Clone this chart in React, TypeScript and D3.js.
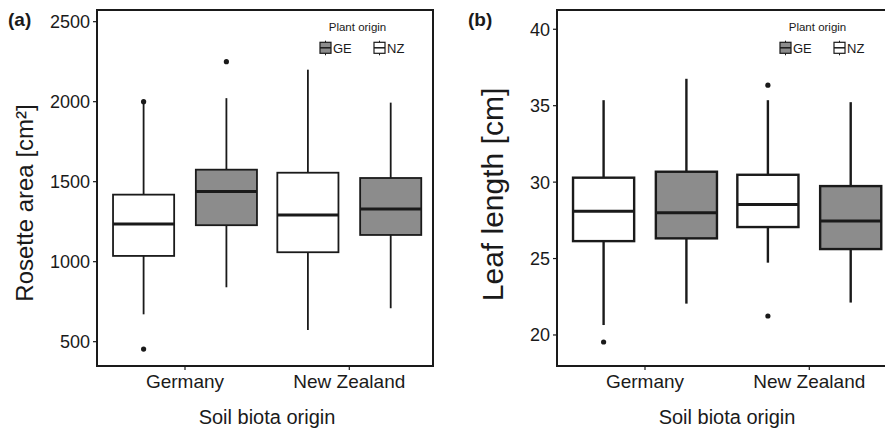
import React from "react";
import * as d3 from "d3";

// ---------- data ----------
const soilOrigins = ["Germany", "New Zealand"];
const plantOrder = ["NZ", "GE"]; // left-to-right within each soil group
const legendOrder = ["GE", "NZ"];

// five-number summaries: [lower whisker, Q1, median, Q3, upper whisker]
const rosetteGermanyNZ = [671, 1036, 1236, 1419, 1992];
const rosetteGermanyGE = [840, 1228, 1438, 1575, 2022];
const rosetteNewZealandNZ = [573, 1059, 1292, 1556, 2200];
const rosetteNewZealandGE = [709, 1167, 1329, 1523, 1994];
const rosetteOutliersGermanyNZ = [454, 2000];
const rosetteOutliersGermanyGE = [2250];
const rosetteOutliersNewZealandNZ: number[] = [];
const rosetteOutliersNewZealandGE: number[] = [];
const rosetteTicks = [500, 1000, 1500, 2000, 2500];

const leafGermanyNZ = [20.65, 26.14, 28.1, 30.29, 35.36];
const leafGermanyGE = [22.05, 26.32, 28.0, 30.68, 36.76];
const leafNewZealandNZ = [24.73, 27.06, 28.54, 30.48, 35.36];
const leafNewZealandGE = [22.12, 25.62, 27.45, 29.74, 35.23];
const leafOutliersGermanyNZ = [19.54];
const leafOutliersGermanyGE: number[] = [];
const leafOutliersNewZealandNZ = [36.34, 21.24];
const leafOutliersNewZealandGE: number[] = [];
const leafTicks = [20, 25, 30, 35, 40];

type Box = { soil: string; plant: string; stats: number[]; outliers: number[] };

const rosetteBoxes: Box[] = [
  { soil: "Germany", plant: "NZ", stats: rosetteGermanyNZ, outliers: rosetteOutliersGermanyNZ },
  { soil: "Germany", plant: "GE", stats: rosetteGermanyGE, outliers: rosetteOutliersGermanyGE },
  { soil: "New Zealand", plant: "NZ", stats: rosetteNewZealandNZ, outliers: rosetteOutliersNewZealandNZ },
  { soil: "New Zealand", plant: "GE", stats: rosetteNewZealandGE, outliers: rosetteOutliersNewZealandGE },
];
const leafBoxes: Box[] = [
  { soil: "Germany", plant: "NZ", stats: leafGermanyNZ, outliers: leafOutliersGermanyNZ },
  { soil: "Germany", plant: "GE", stats: leafGermanyGE, outliers: leafOutliersGermanyGE },
  { soil: "New Zealand", plant: "NZ", stats: leafNewZealandNZ, outliers: leafOutliersNewZealandNZ },
  { soil: "New Zealand", plant: "GE", stats: leafNewZealandGE, outliers: leafOutliersNewZealandGE },
];

// ---------- style ----------
const FONT = "'Liberation Sans', Arial, Helvetica, sans-serif";
const INK = "#1a1a1a";
const FILL: Record<string, string> = { GE: "#8c8c8c", NZ: "#ffffff" };

type PanelProps = {
  left: number;
  label: string;
  title: string;
  titleSize: number;
  titleX: number;
  titleY: number;
  boxes: Box[];
  domain: [number, number];
  ticks: number[];
  lineW: number;
};

const TOP = 10;
const BOTTOM = 366;
const WIDTH = 336;

function Panel(p: PanelProps) {
  const L = p.left;
  const R = L + WIDTH;
  const x = d3.scalePoint<string>().domain(soilOrigins).range([L + 88, L + 252.3]);
  const step = 164.3;
  const dodge = d3.scaleBand<string>().domain(plantOrder).range([-0.252 * step * 2, 0.252 * step * 2]);
  const boxW = 0.372 * step;
  const y = d3.scaleLinear().domain(p.domain).range([BOTTOM, TOP]);
  const centerOf = (b: Box) => (x(b.soil) as number) + (dodge(b.plant) as number) + dodge.bandwidth() / 2;

  return (
    <g>
      {/* boxes */}
      {p.boxes.map((b, i) => {
        const cx = centerOf(b);
        const [lo, q1, med, q3, hi] = b.stats;
        return (
          <g key={i}>
            <line x1={cx} x2={cx} y1={y(hi)} y2={y(q3)} stroke={INK} strokeWidth={p.lineW} />
            <line x1={cx} x2={cx} y1={y(q1)} y2={y(lo)} stroke={INK} strokeWidth={p.lineW} />
            <rect
              x={cx - boxW / 2}
              y={y(q3)}
              width={boxW}
              height={y(q1) - y(q3)}
              fill={FILL[b.plant]}
              stroke={INK}
              strokeWidth={p.lineW}
            />
            <line x1={cx - boxW / 2} x2={cx + boxW / 2} y1={y(med)} y2={y(med)} stroke={INK} strokeWidth={3} />
            {b.outliers.map((o, j) => (
              <circle key={j} cx={cx} cy={y(o)} r={2.6} fill={INK} />
            ))}
          </g>
        );
      })}
      {/* panel frame */}
      <rect x={L} y={TOP} width={WIDTH} height={BOTTOM - TOP} fill="none" stroke={INK} strokeWidth={2} />
      {/* y ticks */}
      {p.ticks.map((t) => (
        <g key={t}>
          <line x1={L - 4} x2={L} y1={y(t)} y2={y(t)} stroke={INK} strokeWidth={1.2} />
          <text
            x={L - 7}
            y={y(t)}
            dy="0.36em"
            textAnchor="end"
            fontFamily={FONT}
            fontSize={18}
            fill={INK}
          >
            {t}
          </text>
        </g>
      ))}
      {/* x ticks */}
      {soilOrigins.map((s) => (
        <g key={s}>
          <line x1={x(s)} x2={x(s)} y1={BOTTOM} y2={BOTTOM + 4} stroke={INK} strokeWidth={1.2} />
          <text x={x(s)} y={388} textAnchor="middle" fontFamily={FONT} fontSize={19} fill={INK}>
            {s}
          </text>
        </g>
      ))}
      {/* axis titles */}
      <text x={(L + R) / 2 + 2} y={424} textAnchor="middle" fontFamily={FONT} fontSize={20} fill={INK}>
        Soil biota origin
      </text>
      <text
        transform={`translate(${p.titleX},${p.titleY}) rotate(-90)`}
        textAnchor="middle"
        fontFamily={FONT}
        fontSize={p.titleSize}
        fill={INK}
      >
        {p.title}
      </text>
      {/* panel label */}
      <text x={L - 89} y={26} fontFamily={FONT} fontSize={19} fontWeight="bold" fill={INK}>
        {p.label}
      </text>
      {/* legend */}
      <text x={R - 75.5} y={31} textAnchor="middle" fontFamily={FONT} fontSize={11.5} fill={INK}>
        Plant origin
      </text>
      {legendOrder.map((k, i) => {
        const kx = i === 0 ? R - 113 : R - 59;
        return (
          <g key={k}>
            <line x1={kx + 5.5} x2={kx + 5.5} y1={40.7} y2={55.3} stroke={INK} strokeWidth={1} />
            <rect x={kx} y={42.3} width={11} height={11} fill={FILL[k]} stroke={INK} strokeWidth={1.2} />
            <line x1={kx} x2={kx + 11} y1={47.8} y2={47.8} stroke={INK} strokeWidth={1.5} />
            <text x={kx + 13} y={53} fontFamily={FONT} fontSize={13} fill={INK}>
              {k}
            </text>
          </g>
        );
      })}
    </g>
  );
}

export default function App() {
  return (
    <svg
      width={885}
      height={433}
      style={{ position: "absolute", left: 0, top: 0, background: "#fff", display: "block" }}
    >
      <rect width={885} height={433} fill="#fff" />
      <Panel
        left={97}
        label="(a)"
        title="Rosette area [cm²]"
        titleSize={24}
        titleX={33}
        titleY={203}
        boxes={rosetteBoxes}
        domain={[348, 2573]}
        ticks={rosetteTicks}
        lineW={1.8}
      />
      <Panel
        left={557}
        label="(b)"
        title="Leaf length [cm]"
        titleSize={30}
        titleX={503}
        titleY={194.5}
        boxes={leafBoxes}
        domain={[17.97, 41.26]}
        ticks={leafTicks}
        lineW={2.4}
      />
    </svg>
  );
}
